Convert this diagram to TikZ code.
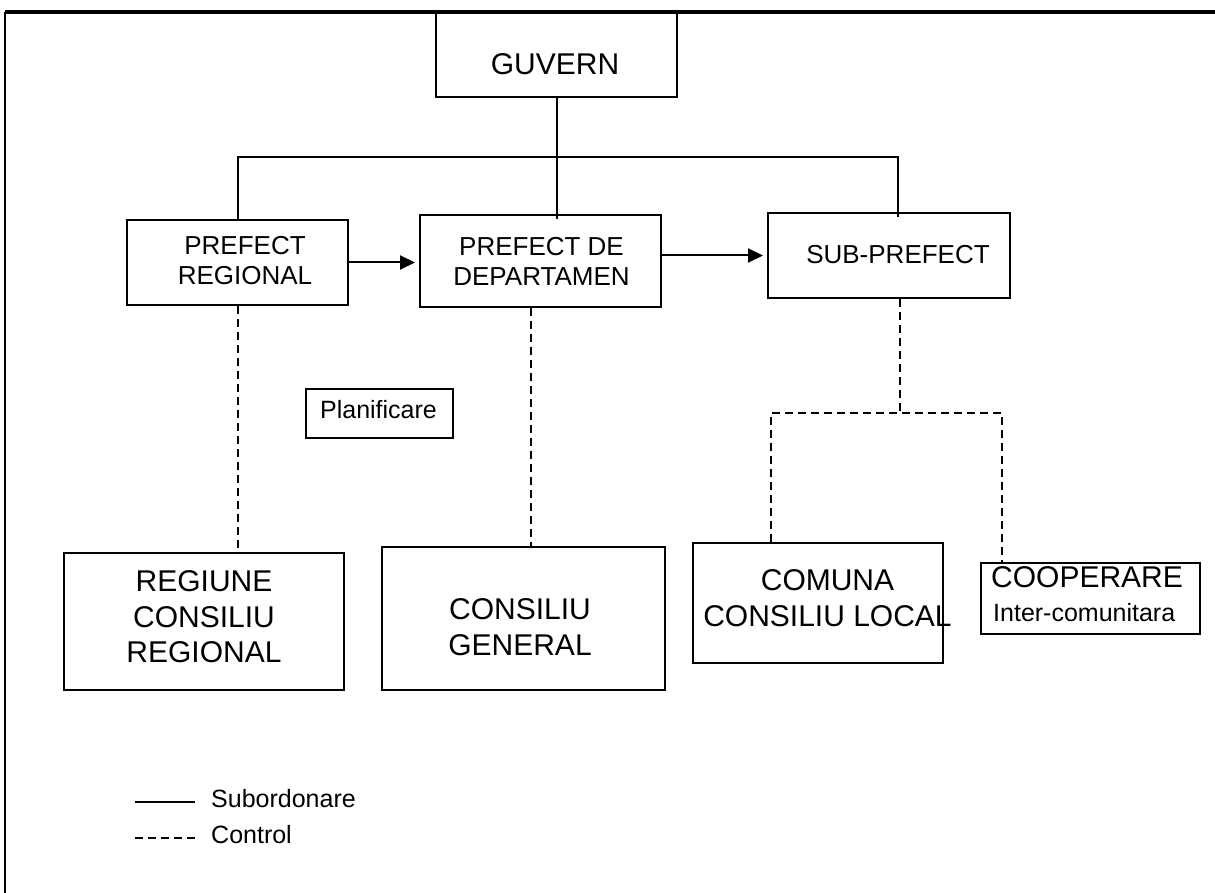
\documentclass[tikz,border=0pt]{standalone}
\usepackage{fontspec}
\setmainfont{Liberation Sans}
\usetikzlibrary{arrows.meta,calc}
\begin{document}
\begin{tikzpicture}[x=1pt,y=-1pt,
  box/.style={draw,line width=2pt,inner sep=0pt,rectangle},
  sub/.style={line width=2pt},
  ctl/.style={line width=2pt,dash pattern=on 8pt off 5pt},
  big/.style={font=\fontsize{30}{35.5}\selectfont,align=center,inner sep=0pt},
  mid/.style={font=\fontsize{26}{30}\selectfont,align=center,inner sep=0pt},
  sml/.style={font=\fontsize{25}{29}\selectfont,inner sep=0pt},
  arr/.style={sub,-{Triangle[length=15pt,width=14pt]},shorten >=4pt}]
\useasboundingbox (0,0) rectangle (1215,893);
% frame
\coordinate (ftl) at (5,12);
\coordinate (ftr) at (1216,12);
\coordinate (fbl) at (5,894);
\draw[line width=3.5pt] (ftl) -- (ftr);
\draw[line width=2.5pt] (ftl) -- (fbl);

% boxes
\node[box,minimum width=241pt,minimum height=84pt] (guv) at (556.5,55) {};
\node[big] (guvT) at (555,63.8) {GUVERN};

\node[box,minimum width=221pt,minimum height=85pt] (pr) at (237.5,262.5) {};
\node[mid] (prT) at (245,260.7) {PREFECT\\REGIONAL};

\node[box,minimum width=241pt,minimum height=92pt] (pdd) at (540.5,261) {};
\node[mid] (pddT) at (541.5,261.7) {PREFECT DE\\DEPARTAMEN};

\node[box,minimum width=242pt,minimum height=85pt] (sub) at (889,255.5) {};
\node[mid] (subT) at (898,254.7) {SUB-PREFECT};

\node[box,minimum width=147pt,minimum height=49pt] (plan) at (379.5,413.5) {};
\node[sml] (planT) at (378.5,410) {Planificare};

\node[box,minimum width=280pt,minimum height=137pt] (reg) at (204,621.5) {};
\node[big] (regT) at (204,616.8) {REGIUNE\\CONSILIU\\REGIONAL};

\node[box,minimum width=283pt,minimum height=143pt] (cg) at (523.5,618.5) {};
\node[big] (cgT) at (520,627) {CONSILIU\\GENERAL};

\node[box,minimum width=250pt,minimum height=120pt] (com) at (818,603) {};
\node[big] (comT) at (827.5,598) {COMUNA\\CONSILIU LOCAL};

\node[box,minimum width=219pt,minimum height=71pt] (coop) at (1090.5,598.5) {};
\node[big,anchor=base west] (coopA) at (991,587) {COOPERARE};
\node[sml,anchor=base west] (coopB) at (993,621) {Inter-comunitara};

% subordination
\coordinate (bus) at (555,157);
\draw[sub] (guv.south) -- ($(guv.south |- pdd.north)+(0,5)$);
\draw[sub] (pr.north) |- (bus) -| ($(sub.north)+(9,5)$);
\draw[arr] (pr.east) -- (pr.east -| pdd.west);
\draw[arr] (pdd.east |- sub.west) -- (sub.west);

% control
\draw[ctl] (pr.south) -- (pr.south |- reg.north);
\coordinate (pddc) at ($(pdd.south)+(-9.5,0)$);
\draw[ctl] (pddc) -- (pddc |- cg.north);
\coordinate (subc) at ($(sub.south)+(11,0)$);
\coordinate (cjl) at (771,413);
\coordinate (cjr) at (1002,413);
\draw[ctl] (subc) -- (subc |- cjl);
\draw[ctl] (cjl |- com.north) -- (cjl) -- (cjr) -- (cjr |- coop.north);

% legend
\coordinate (l1a) at (135,802);
\coordinate (l1b) at (195,802);
\coordinate (l2a) at (135,838);
\coordinate (l2b) at (195,838);
\draw[line width=2.5pt] (l1a) -- (l1b);
\draw[line width=2pt,dash pattern=on 8pt off 5pt] (l2a) -- (l2b);
\node[sml,anchor=base west] (lgS) at (211,807) {Subordonare};
\node[sml,anchor=base west] (lgC) at (211,843) {Control};
\end{tikzpicture}
\end{document}
